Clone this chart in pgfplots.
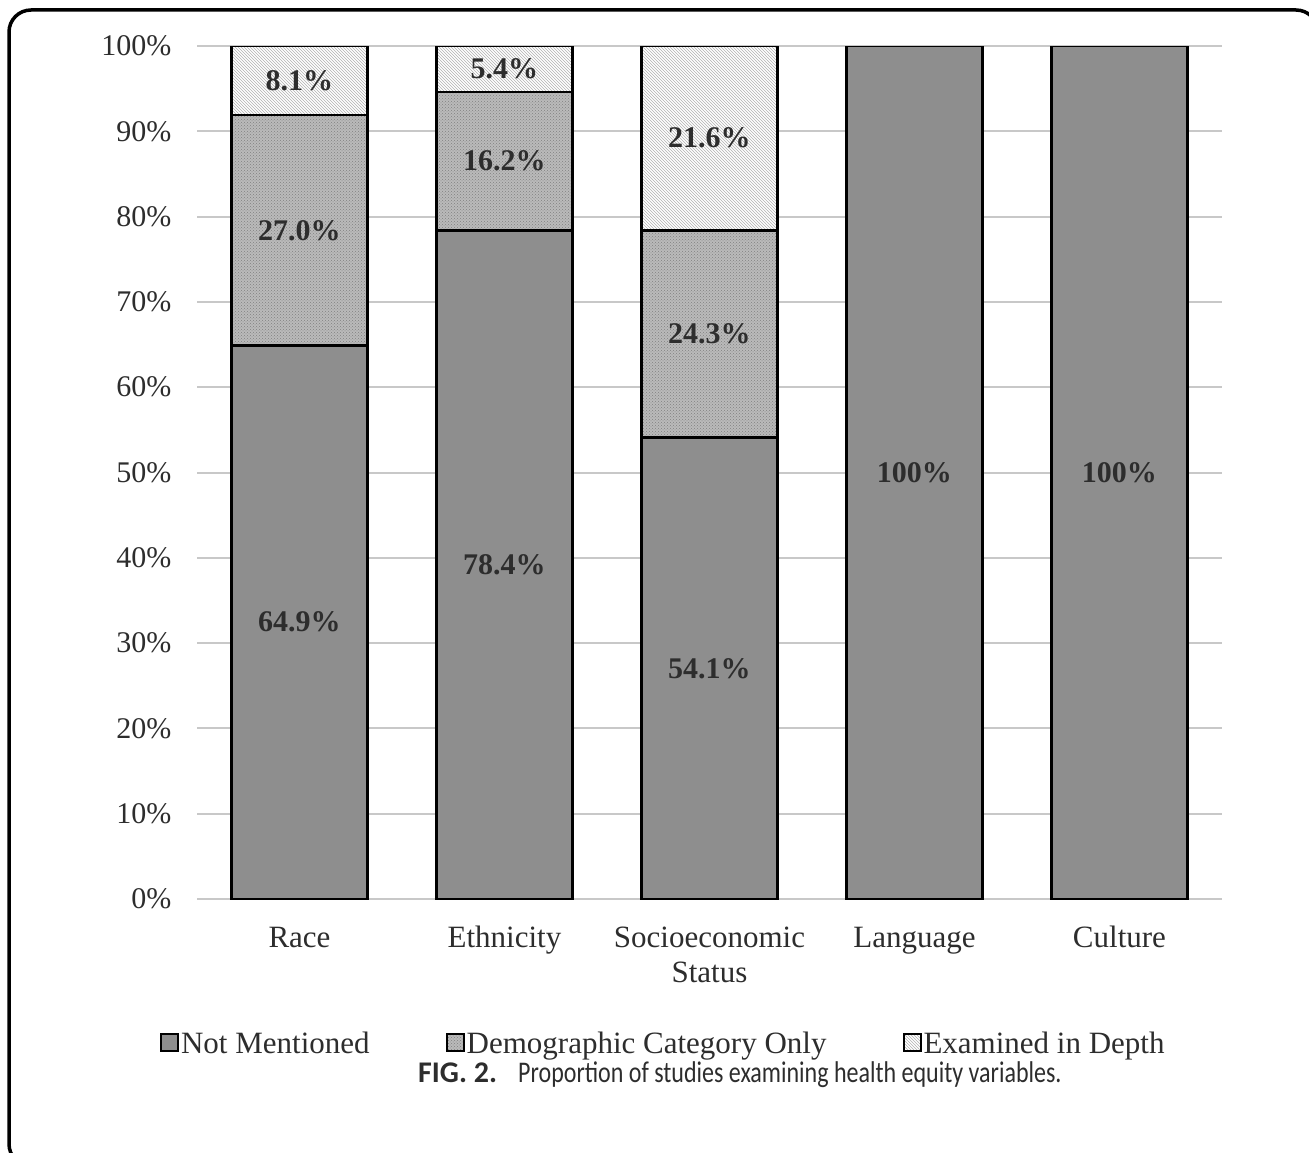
\documentclass[border=0pt]{standalone}
\usepackage{fontspec}
\setmainfont{Liberation Serif}
\newfontfamily\capfont[FakeStretch=0.8]{Carlito}
\newfontfamily\capfontb{Carlito}
\usepackage{pgfplots}
\pgfplotsset{compat=1.18}
\usetikzlibrary{patterns}

\definecolor{notm}{RGB}{142,142,142}
\definecolor{demo}{RGB}{186,186,186}
\definecolor{txt}{RGB}{45,45,45}
\definecolor{gridc}{RGB}{200,200,200}

\begin{document}
\begin{tikzpicture}
\useasboundingbox (0,0) rectangle (1309pt,-1153pt);
\draw[line width=3.5pt, rounded corners=22pt] (9pt,-10pt) rectangle (1318pt,-1166pt);

\begin{axis}[
    at={(197pt,-899pt)}, anchor=south west,
    scale only axis, width=1025pt, height=853pt,
    ybar stacked, bar width=136pt,
    xmin=-0.5, xmax=4.5, ymin=0, ymax=100,
    enlargelimits=false,
    xtick=data,
    xticklabels={\strut Race,\strut Ethnicity,{\strut Socioeconomic\\\strut Status},\strut Language,\strut Culture},
    xticklabel style={align=center, font=\fontsize{31}{35}\selectfont, text=txt, yshift=-20pt},
    ytick={0,10,...,100},
    yticklabel={\pgfmathprintnumber{\tick}\%},
    yticklabel style={font=\fontsize{30}{34}\selectfont, text=txt, xshift=-22pt},
    /pgf/number format/assume math mode=true,
    ymajorgrids, grid style={gridc, line width=2pt},
    axis line style={draw=none}, major tick length=0pt,
    legend columns=3,
    legend style={draw=none, at={(0.455,-0.169)}, anchor=center,
        font=\fontsize{31}{35}\selectfont, text=txt,
        nodes={inner xsep=2pt},
        /tikz/every even column/.append style={column sep=74pt}},
    legend image code/.code={\draw[#1, line width=2pt] (0pt,-8pt) rectangle (17pt,9pt);},
]
\addplot[fill=notm, draw=black, line width=2.5pt] coordinates {(0,64.9) (1,78.4) (2,54.1) (3,100) (4,100)};
\addlegendentry{Not Mentioned}
\addplot[fill=demo, draw=black, line width=2.5pt,
    postaction={pattern=crosshatch dots, pattern color=black!50}] coordinates {(0,27.0) (1,16.2) (2,24.3) (3,0) (4,0)};
\addlegendentry{Demographic Category Only}
\addplot[fill=white, draw=black, line width=2.5pt,
    postaction={pattern=north west lines, pattern color=black!30}] coordinates {(0,8.1) (1,5.4) (2,21.6) (3,0) (4,0)};
\addlegendentry{Examined in Depth}
\end{axis}

\begin{axis}[
    at={(197pt,-899pt)}, anchor=south west,
    scale only axis, width=1025pt, height=853pt,
    xmin=-0.5, xmax=4.5, ymin=0, ymax=100,
    hide axis,
]
\addplot[draw=none, mark=none, nodes near coords={\pgfplotspointmeta\%},
    point meta=explicit symbolic,
    every node near coord/.style={anchor=center, font=\bfseries\fontsize{30}{34}\selectfont, text=txt}]
    table[meta=lab] {
x y lab
0 32.45 64.9
0 78.4 27.0
0 95.95 8.1
1 39.2 78.4
1 86.5 16.2
1 97.3 5.4
2 27.05 54.1
2 66.25 24.3
2 89.2 21.6
3 50 100
4 50 100
};
\end{axis}

\node[anchor=base west, inner sep=0pt, text=txt] at (418pt,-1082pt)
    {\capfontb\bfseries\fontsize{30}{33}\selectfont FIG. 2.};
\node[anchor=base west, inner sep=0pt, text=txt] at (518pt,-1082pt)
    {\capfont\fontsize{30}{33}\selectfont Proportion of studies examining health equity variables.};
\end{tikzpicture}
\end{document}
